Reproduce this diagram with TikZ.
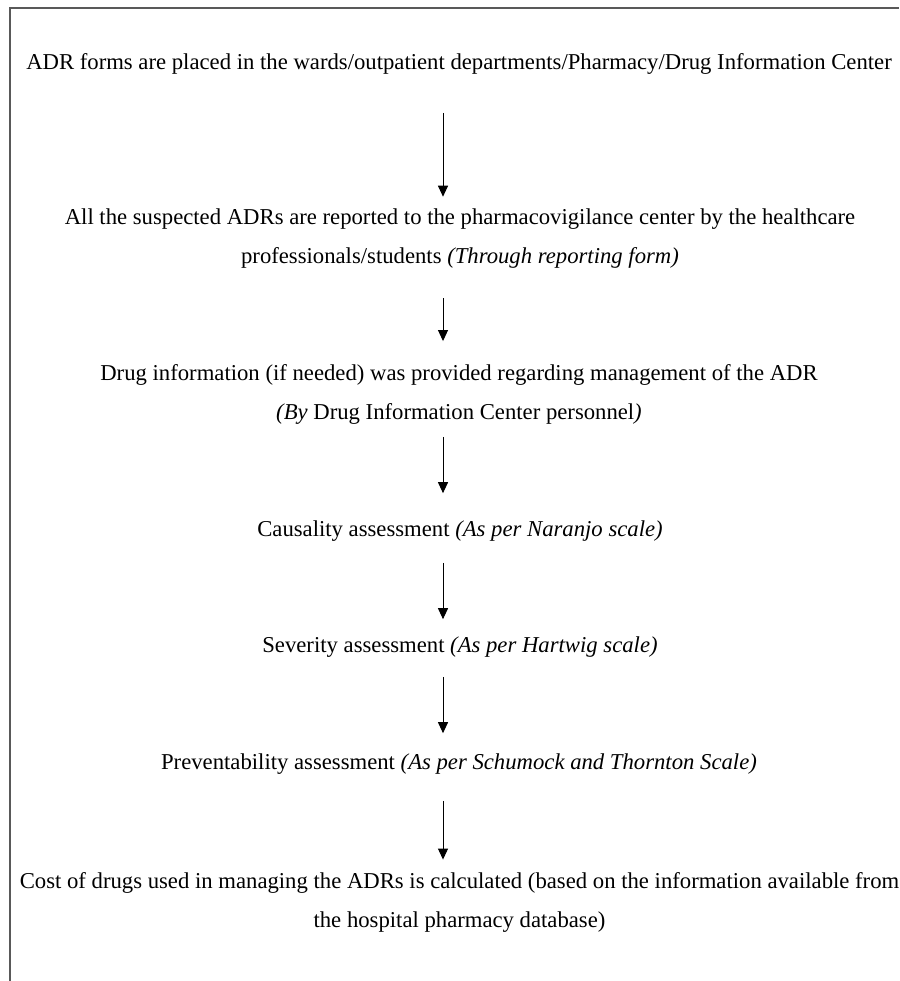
\documentclass[tikz,border=0pt]{standalone}
\usepackage{fontspec}
\setmainfont{Liberation Serif}
\usetikzlibrary{arrows.meta}

\begin{document}
\begin{tikzpicture}[x=1pt, y=-1pt, >={Triangle[length=11pt,width=10pt]}, line width=1pt]
	     %
             \tikzset{stage/.style={inner sep=0pt, align=center, font=\fontsize{22.7}{39}\selectfont}}
             \useasboundingbox (0,0) rectangle (899,981);
             \draw[black!65, line width=1.5pt] (10,981) -- (10,8) -- (899,8);
             %
             \node[stage] (forms) at (459,64) {ADR forms are placed in the wards/outpatient departments/Pharmacy/Drug Information Center};
             \node[stage] (report) at (460,239) {All the suspected ADRs are reported to the pharmacovigilance center by the healthcare\\ professionals/students \textit{(Through reporting form)}};
             \node[stage] (info) at (459,394.5) {Drug information (if needed) was provided regarding management of the ADR\\ \textit{(By} Drug Information Center personnel\textit{)}};
             \node[stage] (causal) at (460,531) {Causality assessment \textit{(As per Naranjo scale)}};
             \node[stage] (sever) at (460,647) {Severity assessment \textit{(As per Hartwig scale)}};
             \node[stage] (prevent) at (459,764) {Preventability assessment \textit{(As per Schumock and Thornton Scale)}};
             \node[stage] (cost) at (459.5,902) {Cost of drugs used in managing the ADRs is calculated (based on the information available from\\ the hospital pharmacy database)};
             %
             \path[->] ([xshift=-16pt]forms.south) edge[shorten <=38pt, shorten >=12pt] ([xshift=-17pt]report.north);
             \path[->] ([xshift=-17pt]report.south) edge[shorten <=29pt, shorten >=23pt] ([xshift=-16pt]info.north);
             \path[->] ([xshift=-16pt]info.south) edge[shorten <=12pt, shorten >=27pt] ([xshift=-17pt]causal.north);
             \path[->] ([xshift=-17pt]causal.south) edge[shorten <=21pt, shorten >=17pt] ([xshift=-17pt]sever.north);
             \path[->] ([xshift=-17pt]sever.south) edge[shorten <=19pt, shorten >=20pt] ([xshift=-16pt]prevent.north);
             \path[->] ([xshift=-16pt]prevent.south) edge[shorten <=26pt, shorten >=12pt] ([xshift=-16.5pt]cost.north);
          \end{tikzpicture}
\end{document}
